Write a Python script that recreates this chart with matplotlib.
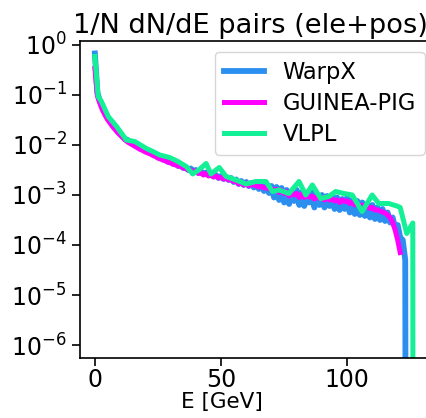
import matplotlib
matplotlib.use("Agg")
import matplotlib.pyplot as plt
import numpy as np

# spectra stored as log10(1/N dN/dE); -30 marks an empty bin
warpx_E = list(range(0, 125))
warpx_log = [
    -0.17, -0.95, -1.12, -1.25, -1.36, -1.45, -1.52, -1.60, -1.66, -1.72,
    -1.78, -1.83, -1.88, -1.90, -1.95, -1.98, -2.00, -2.03, -2.06, -2.08,
    -2.10, -2.14, -2.15, -2.19, -2.20, -2.25, -2.24, -2.29, -2.30, -2.34,
    -2.33, -2.38, -2.36, -2.42, -2.40, -2.46, -2.44, -2.50, -2.47, -2.53,
    -2.50, -2.56, -2.52, -2.58, -2.55, -2.60, -2.57, -2.63, -2.60, -2.66,
    -2.62, -2.68, -2.64, -2.70, -2.66, -2.74, -2.69, -2.78, -2.72, -2.80,
    -2.74, -2.82, -2.76, -2.85, -2.75, -2.88, -2.78, -2.92, -2.80, -2.96,
    -2.82, -3.05, -2.84, -3.10, -2.86, -3.15, -2.90, -3.18, -2.92, -3.12,
    -2.90, -3.20, -2.95, -3.22, -2.98, -3.15, -2.95, -3.25, -3.00, -3.20,
    -3.00, -3.25, -3.02, -3.22, -3.00, -3.28, -3.05, -3.30, -3.08, -3.28,
    -3.05, -3.35, -3.10, -3.38, -3.12, -3.40, -3.15, -3.42, -3.18, -3.45,
    -3.20, -3.48, -3.25, -3.50, -3.28, -3.52, -3.35, -3.55, -3.45, -3.65,
    -3.60, -3.85, -3.90, -4.30, -30.0,
]

gp_E = list(range(0, 122))
gp_log = [
    -0.47, -1.02, -1.17, -1.30, -1.40, -1.49, -1.56, -1.63, -1.69, -1.75,
    -1.80, -1.85, -1.90, -1.94, -1.97, -2.00, -2.03, -2.06, -2.09, -2.11,
    -2.14, -2.16, -2.18, -2.21, -2.23, -2.26, -2.28, -2.30, -2.32, -2.34,
    -2.36, -2.38, -2.40, -2.42, -2.43, -2.46, -2.47, -2.50, -2.50, -2.53,
    -2.52, -2.57, -2.55, -2.60, -2.57, -2.62, -2.60, -2.64, -2.62, -2.66,
    -2.65, -2.68, -2.67, -2.70, -2.69, -2.73, -2.72, -2.78, -2.74, -2.80,
    -2.76, -2.82, -2.78, -2.80, -2.82, -2.84, -2.83, -2.86, -2.85, -2.88,
    -2.87, -2.90, -2.89, -2.95, -2.90, -2.97, -2.93, -3.02, -2.95, -3.00,
    -2.97, -3.05, -2.98, -3.05, -3.00, -3.04, -3.02, -3.08, -3.03, -3.07,
    -3.05, -3.10, -3.06, -3.10, -3.08, -3.12, -3.10, -3.15, -3.10, -3.13,
    -3.12, -3.17, -3.14, -3.20, -3.18, -3.22, -3.20, -3.25, -3.22, -3.27,
    -3.25, -3.30, -3.30, -3.32, -3.34, -3.36, -3.40, -3.45, -3.55, -3.70,
    -3.90, -4.15,
]

vlpl_E = [
    0.0, 1.3, 2.6, 5.3, 8.6, 12.5, 15.8, 20.4, 23.0, 25.7,
    29.6, 32.9, 36.2, 38.8, 41.4, 44.1, 46.0, 49.3, 52.0, 55.9,
    59.9, 63.8, 67.8, 70.4, 73.0, 76.9, 80.9, 83.6, 86.2, 89.5,
    92.8, 95.4, 98.7, 102.0, 105.9, 109.9, 112.5, 116.4, 119.7, 121.0,
    123.6, 126.0, 126.3,
]
vlpl_log = [
    -0.23, -1.03, -1.13, -1.43, -1.63, -1.90, -1.93, -2.07, -2.13, -2.20,
    -2.25, -2.33, -2.43, -2.58, -2.49, -2.37, -2.58, -2.45, -2.63, -2.70,
    -2.78, -2.73, -2.73, -2.93, -2.90, -2.97, -2.73, -3.00, -2.80, -3.07,
    -3.03, -2.93, -2.97, -3.00, -3.33, -3.00, -3.17, -3.17, -3.22, -3.25,
    -3.77, -3.56, -30.0,
]

series = [
    ("WarpX", warpx_E, warpx_log, "#2b8ff0", 4.2),
    ("GUINEA-PIG", gp_E, gp_log, "#ff00ff", 3.6),
    ("VLPL", vlpl_E, vlpl_log, "#14f096", 3.6),
]

fig = plt.figure(figsize=(4.27, 4.18), dpi=100)
ax = fig.add_axes([0.187, 0.1435, 0.843, 0.7585])

for name, E, lg, col, lw in series:
    ax.plot(E, 10.0 ** np.array(lg), color=col, lw=lw, label=name)

ax.set_yscale("log")
ax.set_yticks([10.0 ** k for k in range(0, -7, -1)])
ax.set_ylim(10 ** -6.26, 10 ** 0.08)
ax.set_xlim(-5.95, 136.7)
ax.set_xticks([0, 50, 100])
ax.tick_params(labelsize=17, length=6, width=1.2)
ax.tick_params(axis="x", pad=1.5)
ax.tick_params(which="minor", length=3.5, width=1.0)
for s in ax.spines.values():
    s.set_linewidth(1.2)

ax.set_xlabel("E [GeV]", fontsize=15.5)
ax.xaxis.set_label_coords(0.395, -0.108)
ax.set_title("1/N dN/dE pairs (ele+pos)", fontsize=19.6, loc="left", x=-0.02)
ax.legend(loc="upper right", fontsize=16.3, bbox_to_anchor=(0.995, 0.876),
          bbox_transform=fig.transFigure, borderaxespad=0,
          handlelength=1.8, labelspacing=0.35)

fig.savefig("out.png", dpi=100)
